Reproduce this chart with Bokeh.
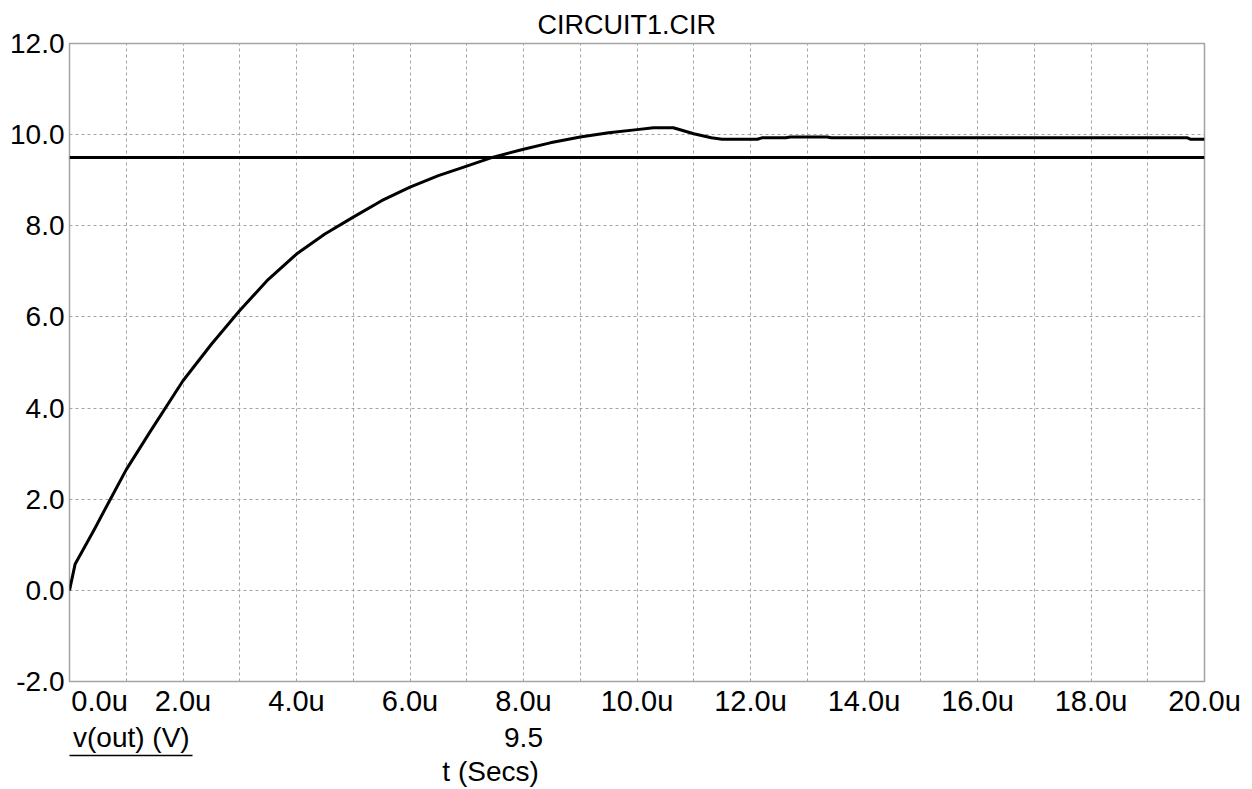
from bokeh.plotting import figure
from bokeh.models import Range1d, FixedTicker, LinearAxis
from bokeh.embed import file_html
from bokeh.resources import INLINE

# ---- data (time in microseconds, voltage in volts) ----
t_us = [0.0, 0.1, 0.43, 0.72, 1.0, 1.43, 2.0, 2.5, 3.0, 3.5, 4.0, 4.5, 5.0, 5.5,
        6.0, 6.5, 7.0, 7.45, 8.0, 8.47, 9.0, 9.5, 10.0, 10.29, 10.64, 11.0, 11.31,
        11.5, 12.12, 12.2, 12.62, 12.7, 13.35, 13.42, 19.7, 19.75, 20.0]
v_out = [0.0, 0.58, 1.32, 2.0, 2.65, 3.5, 4.6, 5.4, 6.14, 6.82, 7.38, 7.82, 8.19, 8.55,
         8.85, 9.1, 9.31, 9.5, 9.68, 9.82, 9.95, 10.04, 10.11, 10.15, 10.15, 10.02, 9.93,
         9.90, 9.90, 9.93, 9.93, 9.95, 9.95, 9.93, 9.93, 9.90, 9.90]
cursor_t = [0.0, 20.0]
cursor_v = [9.5, 9.5]

x_ticks = [0, 2, 4, 6, 8, 10, 12, 14, 16, 18, 20]
x_tick_labels = ["0.0u", "2.0u", "4.0u", "6.0u", "8.0u", "10.0u", "12.0u", "14.0u",
                 "16.0u", "18.0u", "20.0u"]
x_grid = list(range(0, 21))
y_ticks = [-2, 0, 2, 4, 6, 8, 10, 12]
y_tick_labels = ["-2.0", "0.0", "2.0", "4.0", "6.0", "8.0", "10.0", "12.0"]

title_text = "CIRCUIT1.CIR"
trace_name = "v(out) (V)"
cursor_text = "9.5"
x_label = "t (Secs)"

FONT = "Liberation Sans"
GRID = "#a3a3a3"

p = figure(width=1252, height=789, output_backend="svg", toolbar_location=None,
           x_range=Range1d(0, 20), y_range=Range1d(-2, 12),
           min_border_left=69, min_border_right=48, min_border_top=43,
           min_border_bottom=108, title=title_text)

p.title.align = "left"
p.title.offset = 468
p.title.text_font = FONT
p.title.text_font_size = "27px"
p.title.text_font_style = "normal"
p.title.text_color = "black"
p.title.standoff = 8

p.outline_line_color = GRID
p.outline_line_width = 1.5
p.background_fill_color = "white"
p.border_fill_color = "white"

# grids
p.xgrid.ticker = FixedTicker(ticks=x_grid)
p.ygrid.ticker = FixedTicker(ticks=y_ticks)
for g in (p.xgrid, p.ygrid):
    g.grid_line_color = GRID
    g.grid_line_dash = "3 3"
    g.grid_line_width = 1


def style_axis(ax, size, standoff):
    ax.axis_line_color = None
    ax.major_tick_line_color = None
    ax.minor_tick_line_color = None
    ax.major_tick_out = 0
    ax.major_tick_in = 0
    ax.major_label_text_font = FONT
    ax.major_label_text_color = "black"
    ax.major_label_text_font_size = size
    ax.major_label_standoff = standoff


# main x axis: the first label sits to the right of the frame corner
xa = p.xaxis[0]
first_label_pos = 0.53
label_pos = [first_label_pos] + x_ticks[1:]
xa.ticker = FixedTicker(ticks=label_pos)
xa.major_label_overrides = {t: lab for t, lab in zip(label_pos, x_tick_labels)}
style_axis(xa, "29px", 3)

ya = p.yaxis[0]
ya.ticker = FixedTicker(ticks=y_ticks)
ya.major_label_overrides = {t: lab for t, lab in zip(y_ticks, y_tick_labels)}
style_axis(ya, "28px", 5)

# footer row: trace name + cursor value
name_pos = 1.09
cursor_pos = 8.0
row2 = LinearAxis(ticker=FixedTicker(ticks=[name_pos, cursor_pos]),
                  major_label_overrides={name_pos: trace_name, cursor_pos: cursor_text})
style_axis(row2, "28px", 2)
p.add_layout(row2, "below")

# underline under the trace name
uline = LinearAxis(ticker=FixedTicker(ticks=[]), bounds=(0, 2.17))
style_axis(uline, "1px", 0)
uline.axis_line_color = "black"
uline.axis_line_width = 1.5
p.add_layout(uline, "below")

# x axis title row
label_center = 7.42
row3 = LinearAxis(ticker=FixedTicker(ticks=[label_center]),
                  major_label_overrides={label_center: x_label})
style_axis(row3, "28px", 0)
p.add_layout(row3, "below")

# traces
p.line(t_us, v_out, line_color="black", line_width=3, line_join="round")
p.line(cursor_t, cursor_v, line_color="black", line_width=3)

open("out.html", "w").write(file_html(p, INLINE))
